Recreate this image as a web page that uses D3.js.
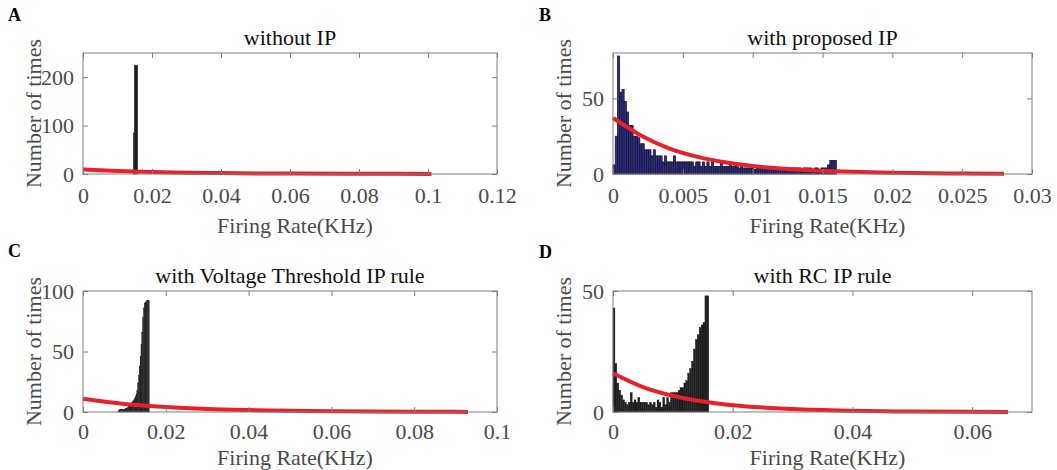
<!DOCTYPE html>
<html><head><meta charset="utf-8">
<script src="https://cdn.jsdelivr.net/npm/d3@7"></script>
<style>
body{margin:0;background:#fff}
svg{display:block}
text{font-family:"Liberation Serif","Times New Roman",serif}
</style>
</head><body>
<svg id="chart" width="1057" height="470"></svg>
<script>
// ---------------- DATA ----------------
const panelLetters = ["A", "B", "C", "D"];
const panelTitles = ["without IP", "with proposed IP", "with Voltage Threshold IP rule", "with RC IP rule"];
const xAxisLabel = "Firing Rate(KHz)";
const yAxisLabel = "Number of times";

// Panel A histogram (bin edges + counts)
const aBinEdges = [0.01458, 0.01487, 0.01586];
const aCounts = [85, 225];
// Panel B histogram: uniform bins starting at 0
const bBinStart = 0, bBinWidth = 0.00016;
const bCounts = [
  6, 25, 78, 54, 56, 48, 41, 32, 32, 25,
  25, 24, 20, 20, 16, 16, 16, 12, 16, 12,
  12, 12, 8, 12, 8, 8, 8, 12, 8, 8,
  8, 8, 8, 8, 8, 8, 5, 8, 8, 5,
  8, 5, 8, 5, 8, 5, 5, 5, 8, 5,
  5, 5, 8, 5, 5, 5, 4, 5, 4, 4,
  4, 4, 4, 3, 4, 4, 4, 4, 4, 4,
  4, 4, 4, 3, 4, 4, 4, 4, 4, 3,
  4, 4, 4, 4, 3, 4, 4, 4, 4, 3,
  4, 4, 3, 4, 4, 4, 6, 9, 9, 9
];
// Panel C histogram
const cBinStart = 0.0086, cBinWidth = 0.0002;
const cCounts = [
  1, 2, 2, 2, 2, 2, 2, 2, 3, 3, 3, 4,
  5, 6, 6, 7, 8,
  9, 10, 11, 13,
  15, 18, 24,
  30, 38, 46,
  56, 66, 78,
  86, 90,
  91, 91, 92, 92, 92
];
// Panel D histogram
const dBinStart = 0, dBinWidth = 0.00032;
const dCounts = [
  43, 20, 12, 9, 7, 5, 4, 3, 4, 8,
  4, 5, 4, 6, 4, 4, 4, 4, 3, 4,
  3, 4, 2, 5, 4, 2, 6, 3, 6, 4,
  8, 8, 8, 8, 9, 10, 10, 12, 13, 16,
  18, 21, 26, 30, 32, 35, 36, 37, 48, 48
];

// Fitted exponential curves
const aFitX = [0, 0.01, 0.02, 0.03, 0.04, 0.05, 0.06, 0.08, 0.101];
const aFitY = [9.5, 6.4, 4.2, 2.8, 1.9, 1.2, 0.8, 0.4, 0.2];
const bFitX = [0, 0.002, 0.004, 0.006, 0.008, 0.01, 0.012, 0.015, 0.02, 0.025, 0.028];
const bFitY = [37, 25.5, 17, 11.5, 7.8, 5.3, 3.6, 2.1, 0.8, 0.35, 0.2];
const cFitX = [0, 0.01, 0.02, 0.03, 0.04, 0.05, 0.06, 0.08, 0.093];
const cFitY = [11, 6.7, 4.1, 2.5, 1.6, 1.0, 0.6, 0.2, 0.1];
const dFitX = [0, 0.005, 0.01, 0.015, 0.02, 0.03, 0.04, 0.05, 0.066];
const dFitY = [16, 10.3, 6.7, 4.3, 2.8, 1.2, 0.5, 0.2, 0.05];

// Axis domains and ticks
const aXDomain = [0, 0.12], aYDomain = [0, 250];
const bXDomain = [0, 0.03], bYDomain = [0, 80];
const cXDomain = [0, 0.1],  cYDomain = [0, 100];
const dXDomain = [0, 0.07], dYDomain = [0, 50];
const aXTicks = [0, 0.02, 0.04, 0.06, 0.08, 0.1, 0.12];
const aXTickLabels = ["0", "0.02", "0.04", "0.06", "0.08", "0.1", "0.12"];
const bXTicks = [0, 0.005, 0.01, 0.015, 0.02, 0.025, 0.03];
const bXTickLabels = ["0", "0.005", "0.01", "0.015", "0.02", "0.025", "0.03"];
const cXTicks = [0, 0.02, 0.04, 0.06, 0.08, 0.1];
const cXTickLabels = ["0", "0.02", "0.04", "0.06", "0.08", "0.1"];
const dXTicks = [0, 0.02, 0.04, 0.06];
const dXTickLabels = ["0", "0.02", "0.04", "0.06"];
const aYTicks = [0, 100, 200];
const bYTicks = [0, 50];
const cYTicks = [0, 50, 100];
const dYTicks = [0, 50];

// ---------------- BUILD ----------------
function uniformBins(start, width, counts) {
  return counts.map((n, i) => ({x0: start + i * width, x1: start + (i + 1) * width, n}));
}
function edgeBins(edges, counts) {
  return counts.map((n, i) => ({x0: edges[i], x1: edges[i + 1], n}));
}
function zipFit(xs, ys) { return xs.map((x, i) => ({x, y: ys[i]})); }

const panels = [
  {letter: panelLetters[0], title: panelTitles[0], left: 83, top: 53, width: 414, height: 121,
   xDomain: aXDomain, yDomain: aYDomain, xTicks: aXTicks, xTickLabels: aXTickLabels, yTicks: aYTicks,
   bins: edgeBins(aBinEdges, aCounts), fit: zipFit(aFitX, aFitY), fill: "#1e1e1e", stroke: "#1e1e1e", sw: 0.4,
   letterX: 8, letterY: 21, ylabX: 41, tickPad: 13, xlabOff: 59},
  {letter: panelLetters[1], title: panelTitles[1], left: 613, top: 53, width: 419, height: 121,
   xDomain: bXDomain, yDomain: bYDomain, xTicks: bXTicks, xTickLabels: bXTickLabels, yTicks: bYTicks,
   bins: uniformBins(bBinStart, bBinWidth, bCounts), fit: zipFit(bFitX, bFitY), fill: "#2e2e8c", stroke: "#12121f", sw: 0.7,
   letterX: 539, letterY: 21, ylabX: 571, tickPad: 13, xlabOff: 59},
  {letter: panelLetters[2], title: panelTitles[2], left: 83, top: 291, width: 414, height: 121,
   xDomain: cXDomain, yDomain: cYDomain, xTicks: cXTicks, xTickLabels: cXTickLabels, yTicks: cYTicks,
   bins: uniformBins(cBinStart, cBinWidth, cCounts), fit: zipFit(cFitX, cFitY), fill: "#1e1e1e", stroke: "#1e1e1e", sw: 0.4,
   letterX: 8, letterY: 257, ylabX: 41, tickPad: 11, xlabOff: 52.5},
  {letter: panelLetters[3], title: panelTitles[3], left: 613, top: 291, width: 419, height: 121,
   xDomain: dXDomain, yDomain: dYDomain, xTicks: dXTicks, xTickLabels: dXTickLabels, yTicks: dYTicks,
   bins: uniformBins(dBinStart, dBinWidth, dCounts), fit: zipFit(dFitX, dFitY), fill: "#1e1e1e", stroke: "#1e1e1e", sw: 0.4,
   letterX: 539, letterY: 258, ylabX: 571, tickPad: 11, xlabOff: 52.5}
];

const svg = d3.select("#chart");
svg.append("rect").attr("width", 1057).attr("height", 470).attr("fill", "#fff");

const axisColor = "#7f7f7f";
const tickTextColor = "#4a4a4a";
const fontSize = 22;

panels.forEach(p => {
  const x = d3.scaleLinear().domain(p.xDomain).range([p.left, p.left + p.width]);
  const y = d3.scaleLinear().domain(p.yDomain).range([p.top + p.height, p.top]);
  const g = svg.append("g");

  // bars
  g.append("g").selectAll("rect").data(p.bins).join("rect")
    .attr("x", d => x(d.x0))
    .attr("width", d => Math.max(0.5, x(d.x1) - x(d.x0)))
    .attr("y", d => y(d.n))
    .attr("height", d => y(0) - y(d.n))
    .attr("fill", p.fill)
    .attr("stroke", p.stroke)
    .attr("stroke-width", p.sw);

  // fit curve
  const line = d3.line().x(d => x(d.x)).y(d => y(d.y)).curve(d3.curveMonotoneX);
  g.append("path").datum(p.fit).attr("d", line)
    .attr("fill", "none").attr("stroke", "#e8202a").attr("stroke-width", 4)
    .attr("stroke-linecap", "butt");

  // axes (ticks inward on all four sides)
  const bottom = g.append("g").attr("transform", `translate(0,${p.top + p.height})`)
    .call(d3.axisBottom(x).tickValues(p.xTicks).tickFormat((d, i) => p.xTickLabels[i])
      .tickSizeInner(-5).tickSizeOuter(0).tickPadding(p.tickPad));
  const top = g.append("g").attr("transform", `translate(0,${p.top})`)
    .call(d3.axisTop(x).tickValues(p.xTicks).tickFormat("").tickSizeInner(-5).tickSizeOuter(0));
  const left = g.append("g").attr("transform", `translate(${p.left},0)`)
    .call(d3.axisLeft(y).tickValues(p.yTicks).tickSizeInner(-5).tickSizeOuter(0).tickPadding(9));
  const right = g.append("g").attr("transform", `translate(${p.left + p.width},0)`)
    .call(d3.axisRight(y).tickValues(p.yTicks).tickFormat("").tickSizeInner(-5).tickSizeOuter(0));
  [bottom, top, left, right].forEach(a => {
    a.select(".domain").remove();
    a.selectAll(".tick line").attr("stroke", axisColor);
    a.selectAll(".tick text").attr("fill", tickTextColor)
      .style("font-family", '"Liberation Serif","Times New Roman",serif')
      .style("font-size", fontSize + "px");
  });

  // frame
  g.append("rect").attr("x", p.left).attr("y", p.top).attr("width", p.width).attr("height", p.height)
    .attr("fill", "none").attr("stroke", axisColor).attr("stroke-width", 1);

  // title
  g.append("text").attr("x", p.left + p.width / 2).attr("y", p.top - 8)
    .attr("text-anchor", "middle").attr("fill", "#111").style("font-size", fontSize + "px")
    .text(p.title);

  // x label
  g.append("text").attr("x", p.left + p.width / 2 + 5).attr("y", p.top + p.height + p.xlabOff)
    .attr("text-anchor", "middle").attr("fill", tickTextColor).style("font-size", fontSize + "px")
    .text(xAxisLabel);

  // y label
  g.append("text").attr("transform", `translate(${p.ylabX},${p.top + p.height / 2}) rotate(-90)`)
    .attr("text-anchor", "middle").attr("fill", tickTextColor).style("font-size", fontSize + "px")
    .text(yAxisLabel);

  // panel letter
  g.append("text").attr("x", p.letterX).attr("y", p.letterY)
    .attr("fill", "#000").attr("font-weight", "bold").style("font-size", "18px")
    .text(p.letter);
});
</script>
</body></html>
